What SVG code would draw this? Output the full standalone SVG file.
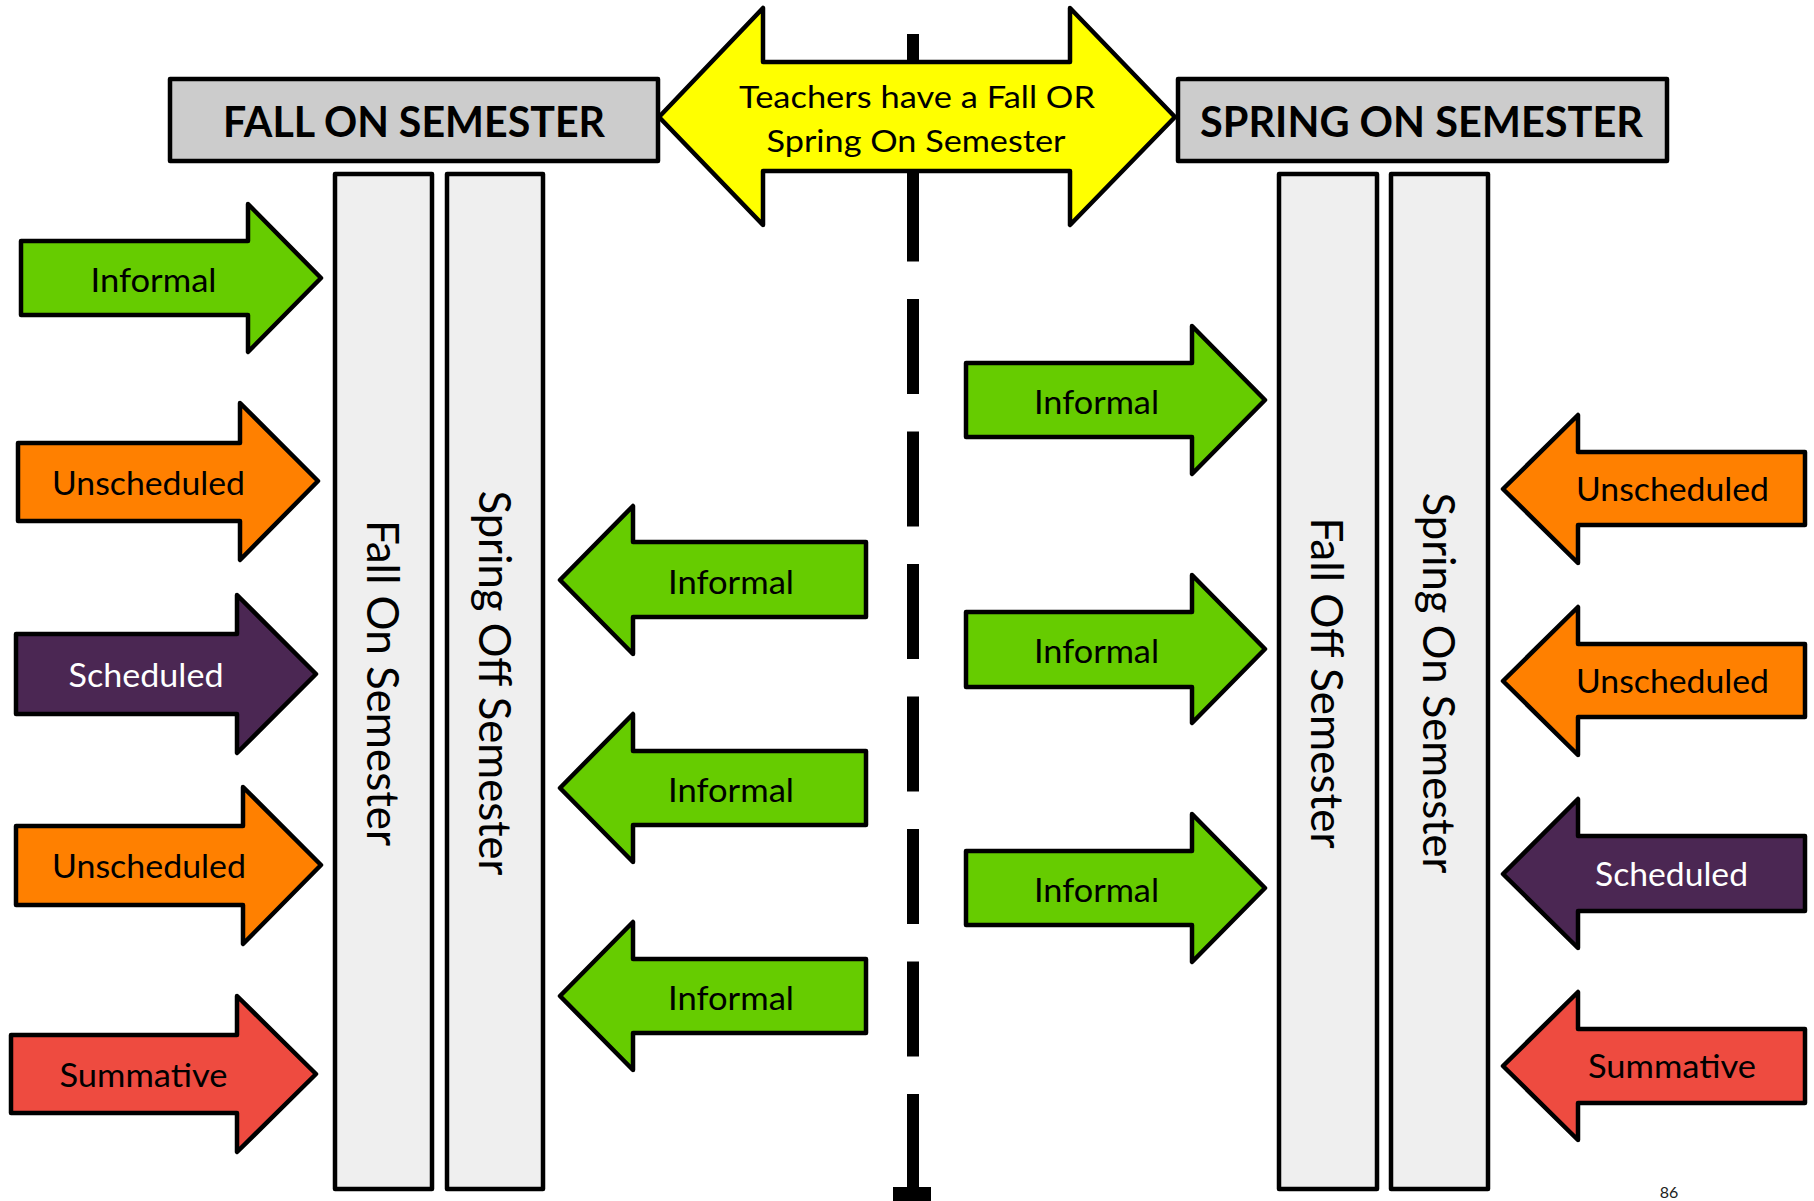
<svg xmlns="http://www.w3.org/2000/svg" width="1814" height="1201" viewBox="0 0 1814 1201">
  <style>
    .shape { stroke: #000; stroke-width: 4.5; stroke-linejoin: round; }
    .green { fill: #66CC00; }
    .orange { fill: #FF8000; }
    .purple { fill: #4B2753; }
    .red { fill: #EE4B40; }
    .yellow { fill: #FFFF00; }
    .head { fill: #CCCCCC; }
    .col { fill: #EFEFEF; }
    .lbl { font-family: Lato, "Open Sans", sans-serif; font-size: 32px; fill: #000; text-anchor: middle; }
    .white { fill: #FFFFFF; }
    .title { font-family: Lato, "Open Sans", sans-serif; font-size: 42px; font-weight: bold; fill: #000; text-anchor: middle; }
    .vert { font-family: Lato, "Open Sans", sans-serif; font-size: 44px; fill: #000; text-anchor: middle; }
    .mid { font-family: Lato, "Open Sans", sans-serif; font-size: 30px; fill: #000; text-anchor: middle; }
  </style>
  <rect width="1814" height="1201" fill="#FFFFFF"/>

  <g id="divider">
    <line x1="913" y1="34" x2="913" y2="1189" stroke="#000" stroke-width="12" stroke-dasharray="95 37.5"/>
    <rect x="893" y="1187" width="38" height="14" fill="#000"/>
  </g>

  <g id="center-arrow">
    <path class="shape yellow" d="M659,117 L763,8 V62 H1070 V8 L1175,117 L1070,225 V171 H763 V225 Z"/>
    <text class="mid" x="917" y="108" textLength="356" lengthAdjust="spacingAndGlyphs">Teachers have a Fall OR</text>
    <text class="mid" x="916" y="152" textLength="299" lengthAdjust="spacingAndGlyphs">Spring On Semester</text>
  </g>

  <g id="fall-header">
    <rect class="shape head" x="170" y="79" width="488" height="82"/>
    <text class="title" x="414" y="137" textLength="382" lengthAdjust="spacingAndGlyphs">FALL ON SEMESTER</text>
  </g>
  <g id="spring-header">
    <rect class="shape head" x="1178" y="79" width="489" height="82"/>
    <text class="title" x="1421.5" y="137" textLength="443" lengthAdjust="spacingAndGlyphs">SPRING ON SEMESTER</text>
  </g>

  <g id="col-fall-on">
    <rect class="shape col" x="335" y="174" width="97" height="1015"/>
    <text class="vert" transform="translate(367,683) rotate(90)" textLength="326" lengthAdjust="spacingAndGlyphs">Fall On Semester</text>
  </g>
  <g id="col-spring-off">
    <rect class="shape col" x="447" y="174" width="96" height="1015"/>
    <text class="vert" transform="translate(479,683) rotate(90)" textLength="385" lengthAdjust="spacingAndGlyphs">Spring Off Semester</text>
  </g>
  <g id="col-fall-off">
    <rect class="shape col" x="1279" y="174" width="98" height="1015"/>
    <text class="vert" transform="translate(1311,683) rotate(90)" textLength="331" lengthAdjust="spacingAndGlyphs">Fall Off Semester</text>
  </g>
  <g id="col-spring-on">
    <rect class="shape col" x="1391" y="174" width="97" height="1015"/>
    <text class="vert" transform="translate(1423,683) rotate(90)" textLength="381" lengthAdjust="spacingAndGlyphs">Spring On Semester</text>
  </g>

  <!-- Left side, pointing right -->
  <g id="l-informal">
    <path class="shape green" d="M21,241 H248 V204 L321,278 L248,352 V315 H21 Z"/>
    <text class="lbl" x="153.5" y="292" textLength="126" lengthAdjust="spacingAndGlyphs">Informal</text>
  </g>
  <g id="l-unscheduled-1">
    <path class="shape orange" d="M18,443 H240 V403 L318,481 L240,560 V521 H18 Z"/>
    <text class="lbl" x="148.5" y="495" textLength="193" lengthAdjust="spacingAndGlyphs">Unscheduled</text>
  </g>
  <g id="l-scheduled">
    <path class="shape purple" d="M16,634 H237 V595 L316,674 L237,753 V714 H16 Z"/>
    <text class="lbl white" x="146" y="687" textLength="155" lengthAdjust="spacingAndGlyphs">Scheduled</text>
  </g>
  <g id="l-unscheduled-2">
    <path class="shape orange" d="M16,826 H243 V787 L321,865 L243,944 V905 H16 Z"/>
    <text class="lbl" x="149" y="878" textLength="194" lengthAdjust="spacingAndGlyphs">Unscheduled</text>
  </g>
  <g id="l-summative">
    <path class="shape red" d="M11,1035 H237 V996 L316,1074 L237,1152 V1113 H11 Z"/>
    <text class="lbl" x="143.5" y="1087" textLength="168" lengthAdjust="spacingAndGlyphs">Summative</text>
  </g>

  <!-- Middle left, pointing left -->
  <g id="m-informal-l1">
    <path class="shape green" d="M560,580 L633,506 V542 H866 V617 H633 V654 Z"/>
    <text class="lbl" x="731" y="594" textLength="126" lengthAdjust="spacingAndGlyphs">Informal</text>
  </g>
  <g id="m-informal-l2">
    <path class="shape green" d="M560,788 L633,714 V751 H866 V825 H633 V862 Z"/>
    <text class="lbl" x="731" y="802" textLength="126" lengthAdjust="spacingAndGlyphs">Informal</text>
  </g>
  <g id="m-informal-l3">
    <path class="shape green" d="M560,996 L633,922 V959 H866 V1033 H633 V1070 Z"/>
    <text class="lbl" x="731" y="1010" textLength="126" lengthAdjust="spacingAndGlyphs">Informal</text>
  </g>

  <!-- Middle right, pointing right -->
  <g id="m-informal-r1">
    <path class="shape green" d="M966,363 H1192 V326 L1265,400 L1192,474 V437 H966 Z"/>
    <text class="lbl" x="1096.5" y="414" textLength="125" lengthAdjust="spacingAndGlyphs">Informal</text>
  </g>
  <g id="m-informal-r2">
    <path class="shape green" d="M966,612 H1192 V575 L1265,649 L1192,723 V687 H966 Z"/>
    <text class="lbl" x="1096.5" y="663" textLength="125" lengthAdjust="spacingAndGlyphs">Informal</text>
  </g>
  <g id="m-informal-r3">
    <path class="shape green" d="M966,851 H1192 V814 L1265,888 L1192,962 V925 H966 Z"/>
    <text class="lbl" x="1096.5" y="902" textLength="125" lengthAdjust="spacingAndGlyphs">Informal</text>
  </g>

  <!-- Right side, pointing left -->
  <g id="r-unscheduled-1">
    <path class="shape orange" d="M1503,489 L1578,415 V452 H1805 V525 H1578 V563 Z"/>
    <text class="lbl" x="1672.5" y="501" textLength="193" lengthAdjust="spacingAndGlyphs">Unscheduled</text>
  </g>
  <g id="r-unscheduled-2">
    <path class="shape orange" d="M1503,681 L1578,607 V644 H1805 V717 H1578 V755 Z"/>
    <text class="lbl" x="1672.5" y="693" textLength="193" lengthAdjust="spacingAndGlyphs">Unscheduled</text>
  </g>
  <g id="r-scheduled">
    <path class="shape purple" d="M1503,874 L1578,799 V836 H1805 V911 H1578 V948 Z"/>
    <text class="lbl white" x="1671.5" y="886" textLength="153" lengthAdjust="spacingAndGlyphs">Scheduled</text>
  </g>
  <g id="r-summative">
    <path class="shape red" d="M1503,1066 L1578,992 V1029 H1805 V1103 H1578 V1140 Z"/>
    <text class="lbl" x="1672" y="1078" textLength="168" lengthAdjust="spacingAndGlyphs">Summative</text>
  </g>

  <text x="1669" y="1198" font-family="Lato, 'Open Sans', sans-serif" font-size="16" fill="#222" text-anchor="middle">86</text>
</svg>
